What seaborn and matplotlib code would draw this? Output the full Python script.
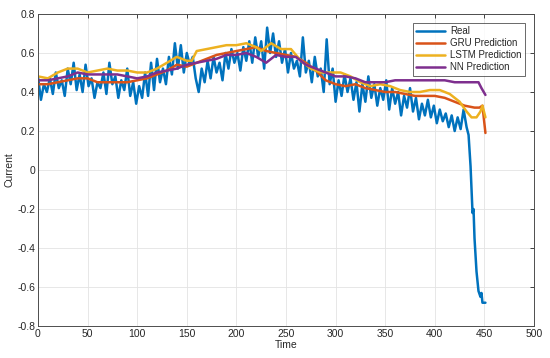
import pandas as pd
import seaborn as sns
import matplotlib
matplotlib.use("Agg")
import matplotlib.pyplot as plt

real_t = [0, 3, 6, 9, 12, 15, 18, 21, 24, 27, 30, 33, 36, 39, 42, 45, 48, 51, 54, 57,
          60, 63, 66, 69, 72, 75, 78, 81, 84, 87, 90, 93, 96, 99, 102, 105, 108, 111, 114, 117,
          120, 123, 126, 129, 132, 135, 138, 141, 144, 147, 150, 153, 156, 159, 162, 165, 168, 171, 174, 177,
          180, 183, 186, 189, 192, 195, 198, 201, 204, 207, 210, 213, 216, 219, 222, 225, 228, 231, 234, 237,
          240, 243, 246, 249, 252, 255, 258, 261, 264, 267, 270, 273, 276, 279, 282, 285, 288, 291, 294, 297,
          300, 303, 306, 309, 312, 315, 318, 321, 324, 327, 330, 333, 336, 339, 342, 345, 348, 351, 354, 357,
          360, 363, 366, 369, 372, 375, 378, 381, 384, 387, 390, 393, 396, 399, 402, 405, 408, 411, 414, 417,
          420, 423, 426, 429, 432, 434, 436, 438, 439, 440, 442, 444, 446, 447, 448, 451]
real_v = [0.48, 0.36, 0.44, 0.40, 0.47, 0.39, 0.50, 0.42, 0.46, 0.38, 0.52, 0.44, 0.55, 0.41, 0.49, 0.40, 0.54, 0.43, 0.47, 0.37,
          0.45, 0.42, 0.50, 0.39, 0.55, 0.44, 0.48, 0.37, 0.46, 0.41, 0.52, 0.38, 0.45, 0.34, 0.43, 0.37, 0.50, 0.38, 0.55, 0.41,
          0.57, 0.45, 0.52, 0.44, 0.58, 0.49, 0.65, 0.52, 0.64, 0.50, 0.60, 0.54, 0.58, 0.47, 0.40, 0.52, 0.45, 0.56, 0.47, 0.58,
          0.50, 0.55, 0.46, 0.60, 0.52, 0.62, 0.55, 0.60, 0.51, 0.63, 0.56, 0.66, 0.55, 0.68, 0.58, 0.66, 0.52, 0.73, 0.60, 0.70,
          0.58, 0.66, 0.55, 0.62, 0.50, 0.60, 0.52, 0.56, 0.48, 0.68, 0.50, 0.56, 0.45, 0.58, 0.48, 0.52, 0.40, 0.67, 0.44, 0.52,
          0.35, 0.46, 0.38, 0.49, 0.40, 0.47, 0.36, 0.45, 0.30, 0.44, 0.35, 0.48, 0.37, 0.44, 0.33, 0.42, 0.36, 0.46, 0.31, 0.42,
          0.34, 0.40, 0.28, 0.38, 0.32, 0.42, 0.30, 0.37, 0.26, 0.34, 0.28, 0.36, 0.27, 0.33, 0.24, 0.31, 0.25, 0.29, 0.22, 0.28,
          0.20, 0.27, 0.21, 0.31, 0.22, 0.18, 0.02, -0.22, -0.20, -0.35, -0.52, -0.62, -0.65, -0.63, -0.68, -0.68]

gru_t = [0, 10, 20, 30, 40, 50, 60, 70, 80, 90, 100, 110, 120, 130, 140, 150, 160, 170, 180, 190,
         200, 210, 220, 230, 240, 250, 260, 270, 280, 290, 300, 310, 320, 330, 340, 350, 360, 370, 380, 390,
         400, 410, 420, 430, 440, 445, 448, 451]
gru_v = [0.44, 0.44, 0.45, 0.46, 0.47, 0.47, 0.45, 0.45, 0.45, 0.45, 0.46, 0.47, 0.49, 0.51, 0.54, 0.53, 0.55, 0.57, 0.59, 0.60,
         0.61, 0.62, 0.63, 0.61, 0.60, 0.59, 0.58, 0.55, 0.51, 0.46, 0.44, 0.43, 0.44, 0.42, 0.41, 0.40, 0.40, 0.39, 0.38, 0.38,
         0.38, 0.37, 0.35, 0.33, 0.32, 0.32, 0.33, 0.19]

lstm_t = [0, 10, 20, 30, 40, 50, 60, 70, 80, 90, 100, 110, 120, 130, 140, 150, 155, 160, 170, 180,
          190, 200, 210, 220, 225, 235, 245, 255, 265, 275, 285, 295, 305, 315, 325, 335, 345, 355, 365, 375,
          385, 395, 405, 415, 425, 432, 437, 442, 446, 448, 451]
lstm_v = [0.48, 0.47, 0.50, 0.52, 0.52, 0.50, 0.51, 0.52, 0.51, 0.51, 0.50, 0.50, 0.52, 0.55, 0.58, 0.56, 0.56, 0.61, 0.62, 0.63,
          0.64, 0.64, 0.65, 0.63, 0.61, 0.65, 0.62, 0.62, 0.56, 0.52, 0.50, 0.50, 0.50, 0.48, 0.45, 0.43, 0.44, 0.43, 0.41, 0.40,
          0.40, 0.41, 0.41, 0.39, 0.35, 0.30, 0.27, 0.27, 0.30, 0.33, 0.27]

nn_t = [0, 10, 20, 30, 40, 50, 60, 70, 80, 90, 100, 110, 120, 130, 140, 150, 160, 170, 180, 190,
        200, 210, 220, 230, 240, 250, 260, 270, 280, 290, 300, 310, 320, 330, 340, 350, 360, 370, 380, 390,
        400, 410, 420, 430, 440, 444, 447, 451]
nn_v = [0.46, 0.46, 0.47, 0.48, 0.50, 0.49, 0.49, 0.49, 0.49, 0.48, 0.47, 0.48, 0.50, 0.51, 0.52, 0.54, 0.55, 0.56, 0.57, 0.59,
        0.59, 0.60, 0.58, 0.55, 0.59, 0.58, 0.58, 0.54, 0.52, 0.50, 0.48, 0.48, 0.47, 0.45, 0.45, 0.45, 0.46, 0.46, 0.46, 0.46,
        0.46, 0.46, 0.45, 0.45, 0.45, 0.45, 0.42, 0.385]

series = [
    ("Real", real_t, real_v, "#0072BD"),
    ("GRU Prediction", gru_t, gru_v, "#D95319"),
    ("LSTM Prediction", lstm_t, lstm_v, "#EDB120"),
    ("NN Prediction", nn_t, nn_v, "#7E2F8E"),
]

sns.set_style("whitegrid")
plt.rcParams["font.family"] = ["Liberation Sans", "DejaVu Sans"]

fig = plt.figure(figsize=(5.5, 3.58), dpi=100)
ax = fig.add_axes([0.069, 0.089, 0.902, 0.872])

for name, t, v, col in series:
    df = pd.DataFrame({"Time": t, "Current": v})
    sns.lineplot(data=df, x="Time", y="Current", ax=ax, color=col, linewidth=1.8,
                 label=name, estimator=None, sort=False)

ax.set_xlim(0, 500)
ax.set_ylim(-0.8, 0.8)
ax.set_xticks(range(0, 501, 50))
ax.set_yticks([-0.8, -0.6, -0.4, -0.2, 0, 0.2, 0.4, 0.6, 0.8])
ax.set_yticklabels(["-0.8", "-0.6", "-0.4", "-0.2", "0", "0.2", "0.4", "0.6", "0.8"])
ax.grid(True, color="#e3e3e3", linewidth=0.6)
for s in ax.spines.values():
    s.set_color("#4d4d4d")
    s.set_linewidth(0.7)
ax.tick_params(direction="in", length=3, width=0.6, colors="#262626", labelsize=7.5,
               top=True, right=True, pad=2)
ax.set_xlabel("Time", fontsize=7.5, color="#262626", labelpad=1)
ax.set_ylabel("Current", fontsize=7.5, color="#262626", labelpad=2)

leg = ax.legend(loc="upper right", fontsize=7, frameon=True, fancybox=False,
                handlelength=3.0, handletextpad=0.5, borderpad=0.35, labelspacing=0.2,
                borderaxespad=0, bbox_to_anchor=(0.982, 0.971))
leg.get_frame().set_edgecolor("#262626")
leg.get_frame().set_linewidth(0.6)

fig.savefig("out.png", dpi=100)
